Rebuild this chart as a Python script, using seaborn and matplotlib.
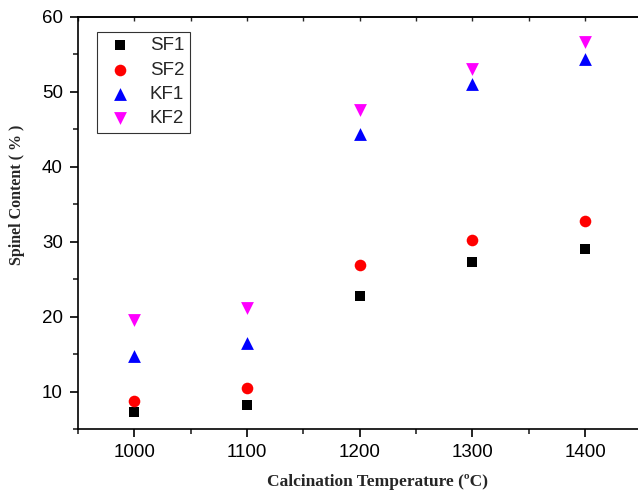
import pandas as pd
import matplotlib
matplotlib.use('Agg')
import matplotlib.pyplot as plt
from matplotlib.ticker import MultipleLocator
import seaborn as sns

temps = [1000, 1100, 1200, 1300, 1400]
sf1 = [7.3, 8.2, 22.8, 27.3, 29.0]
sf2 = [8.8, 10.5, 26.9, 30.15, 32.7]
kf1 = [14.8, 16.5, 44.4, 51.0, 54.3]
kf2 = [19.6, 21.2, 47.5, 53.0, 56.6]
series = ['SF1', 'SF2', 'KF1', 'KF2']

df = pd.DataFrame({'T': temps * 4,
                   'val': sf1 + sf2 + kf1 + kf2,
                   'sample': [s for s in series for _ in temps]})

sns.set_style('ticks')
plt.rcParams['font.family'] = ['Liberation Sans', 'DejaVu Sans']

colors = {'SF1': 'black', 'SF2': 'red', 'KF1': 'blue', 'KF2': 'magenta'}
markers = {'SF1': 's', 'SF2': 'o', 'KF1': '^', 'KF2': 'v'}
sizes = {'SF1': 55, 'SF2': 70, 'KF1': 85, 'KF2': 85}

fig = plt.figure(figsize=(6.38, 4.92), dpi=100)
ax = fig.add_axes([0.1223, 0.128, 0.883, 0.838])

for s in series:
    d = df[df['sample'] == s]
    sns.scatterplot(data=d, x='T', y='val', color=colors[s], marker=markers[s],
                    s=sizes[s], linewidth=0, label=s, ax=ax)

ax.set_xlim(950, 1450)
ax.set_ylim(5, 60)
ax.xaxis.set_major_locator(MultipleLocator(100))
ax.xaxis.set_minor_locator(MultipleLocator(50))
ax.yaxis.set_major_locator(MultipleLocator(10))
ax.yaxis.set_minor_locator(MultipleLocator(5))
ax.set_yticks([10, 20, 30, 40, 50, 60])

for sp in ax.spines.values():
    sp.set_linewidth(1.2)
    sp.set_color('black')

ax.tick_params(axis='both', which='major', direction='out', length=6, width=1.2,
               labelsize=13.5, colors='black', pad=5)
ax.tick_params(axis='both', which='minor', direction='out', length=3.5, width=1.2)
ax.tick_params(axis='x', which='both', top=False, labeltop=False)

# short inward ticks on the top spine
top = ax.secondary_xaxis('top')
top.xaxis.set_major_locator(MultipleLocator(50))
top.tick_params(direction='in', length=3, width=1, labeltop=False)
top.spines['top'].set_linewidth(1.2)

ax.set_xlabel('Calcination Temperature (ºC)', fontfamily='Liberation Serif',
              fontweight='bold', fontsize=12.5)
ax.xaxis.set_label_coords(0.532, -0.108)
ax.set_ylabel('Spinel Content ( % )', fontfamily='Liberation Serif',
              fontweight='bold', fontsize=11.5)
ax.yaxis.set_label_coords(-0.094, 0.568)

leg = ax.legend(loc='upper left', bbox_to_anchor=(0.034, 0.964), fontsize=13.5,
                frameon=True, fancybox=False, edgecolor='black',
                borderpad=0.3, handletextpad=0.7, labelspacing=0.38,
                handlelength=1.8, borderaxespad=0)
leg.get_frame().set_linewidth(0.8)

fig.savefig('out.png', dpi=100)
